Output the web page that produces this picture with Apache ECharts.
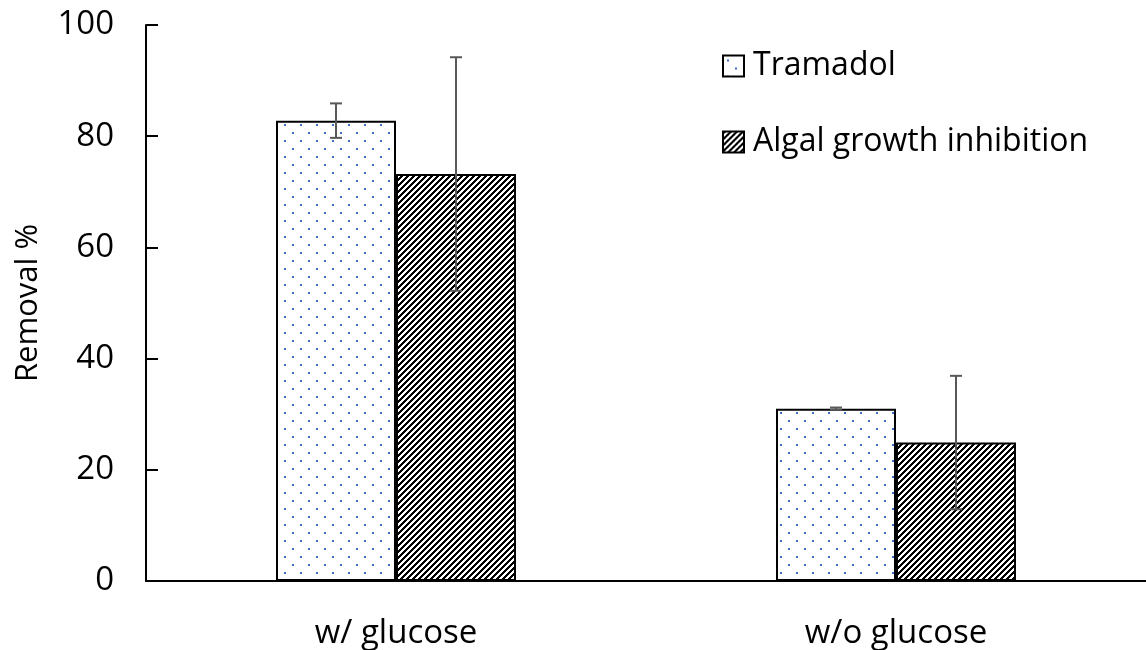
<!DOCTYPE html>
<html>
<head>
<meta charset="utf-8">
<script src="https://cdn.jsdelivr.net/npm/echarts@6/dist/echarts.min.js"></script>
<style>
  html, body { margin: 0; padding: 0; background: #fff; }
  #main { width: 1146px; height: 650px; }
</style>
</head>
<body>
<div id="main"></div>
<script>
// data
var categories = ['w/ glucose', 'w/o glucose'];
var seriesNames = ['Tramadol', 'Algal growth inhibition'];
var tramadol = [82.8, 31.0];
var tramadolErr = [3.1, 0.2];
var algal = [73.2, 24.9];
var algalErr = [21.0, 12.0];
var yMin = 0, yMax = 100, yStep = 20;

var FONT = 'Open Sans';
var BAR_RATIO = 0.24;   // bar width as part of one category band

// fill patterns (dotted / diagonal hatch)
function dotTile() {
    var c = document.createElement('canvas');
    c.width = 16; c.height = 16;
    var g = c.getContext('2d');
    g.fillStyle = '#fff';
    g.fillRect(0, 0, 16, 16);
    g.fillStyle = '#3d6ccf';
    g.fillRect(4, 4, 2, 2);
    g.fillRect(12, 12, 2, 2);
    return c;
}
function hatchTile() {
    var c = document.createElement('canvas');
    c.width = 6; c.height = 6;
    var g = c.getContext('2d');
    for (var x = 0; x < 6; x++) {
        for (var y = 0; y < 6; y++) {
            g.fillStyle = ((x + y) % 6) < 3 ? '#000' : '#fff';
            g.fillRect(x, y, 1, 1);
        }
    }
    return c;
}

// error bar data: [category index, value, error]
function errData(vals, errs) {
    var out = [];
    for (var i = 0; i < vals.length; i++) {
        out.push([i, vals[i], errs[i]]);
    }
    return out;
}

function errRenderer(side) {
    return function (params, api) {
        var idx = api.value(0);
        var v = api.value(1);
        var e = api.value(2);
        var band = api.size([1, 0])[0];
        var dx = side * band * BAR_RATIO / 2;
        var top = api.coord([idx, v + e]);
        var bot = api.coord([idx, v - e]);
        var x = top[0] + dx;
        var cap = 6;
        var st = { stroke: '#595959', lineWidth: 2 };
        return {
            type: 'group',
            children: [
                { type: 'line', shape: { x1: x, y1: top[1], x2: x, y2: bot[1] }, style: st },
                { type: 'line', shape: { x1: x - cap, y1: top[1], x2: x + cap, y2: top[1] }, style: st },
                { type: 'line', shape: { x1: x - cap, y1: bot[1], x2: x + cap, y2: bot[1] }, style: st }
            ]
        };
    };
}

var myChart = echarts.init(document.getElementById('main'));

var option = {
    backgroundColor: '#fff',
    animation: false,
    grid: { left: 146, right: -8, top: 25, bottom: 68 },
    legend: {
        data: seriesNames,
        icon: 'rect',
        orient: 'vertical',
        left: 722,
        top: 49,
        padding: 0,
        itemWidth: 21,
        itemHeight: 21,
        itemGap: 42,
        textStyle: { fontFamily: FONT, fontSize: 32, color: '#000', lineHeight: 34, padding: [0, 0, 0, 4] },
        selectedMode: false
    },
    xAxis: {
        type: 'category',
        data: categories,
        axisLine: { lineStyle: { color: '#000', width: 2 } },
        axisTick: { inside: true, length: 10, lineStyle: { color: '#000', width: 2 } },
        axisLabel: { fontFamily: FONT, fontSize: 33, color: '#000', margin: 36 }
    },
    yAxis: {
        type: 'value',
        min: yMin,
        max: yMax,
        interval: yStep,
        name: 'Removal %',
        nameLocation: 'middle',
        nameGap: 102,
        nameTextStyle: { fontFamily: FONT, fontSize: 31, color: '#000' },
        splitLine: { show: false },
        axisLine: { show: true, lineStyle: { color: '#000', width: 2 } },
        axisTick: { show: true, inside: true, length: 12, lineStyle: { color: '#000', width: 2 } },
        axisLabel: { fontFamily: FONT, fontSize: 33, color: '#000', margin: 32 }
    },
    series: [
        {
            name: seriesNames[0],
            type: 'bar',
            barWidth: (BAR_RATIO * 100) + '%',
            barGap: '0%',
            data: tramadol,
            itemStyle: {
                color: { image: dotTile(), repeat: 'repeat' },
                borderColor: '#000',
                borderWidth: 2
            }
        },
        {
            name: seriesNames[1],
            type: 'bar',
            barWidth: (BAR_RATIO * 100) + '%',
            barGap: '0%',
            data: algal,
            itemStyle: {
                color: { image: hatchTile(), repeat: 'repeat' },
                borderColor: '#000',
                borderWidth: 2
            }
        },
        {
            type: 'custom',
            renderItem: errRenderer(-1),
            data: errData(tramadol, tramadolErr),
            z: 10
        },
        {
            type: 'custom',
            renderItem: errRenderer(1),
            data: errData(algal, algalErr),
            z: 10
        }
    ]
};

myChart.setOption(option);
</script>
</body>
</html>
